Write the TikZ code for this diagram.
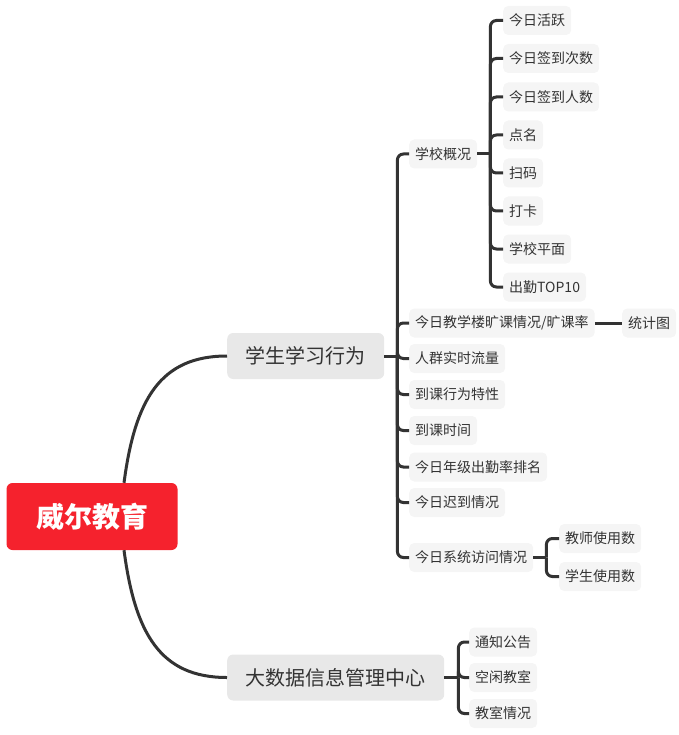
\documentclass[tikz,border=0pt]{standalone}
\usepackage{fontspec}
\setmainfont{Noto Sans CJK SC}
\definecolor{linec}{HTML}{333333}
\definecolor{textc}{HTML}{333333}
\definecolor{leafgray}{HTML}{F5F5F5}
\definecolor{midgray}{HTML}{E8E8E8}
\definecolor{rootred}{HTML}{F5222D}
\begin{document}
\begin{tikzpicture}[x=1pt,y=-1pt,
  leaf/.style={fill=leafgray, rounded corners=5pt, inner xsep=6pt, inner ysep=0pt, minimum height=29pt, anchor=west, text=textc, font=\fontsize{14}{16}\selectfont},
  mid/.style={fill=midgray, rounded corners=6pt, inner xsep=18.5pt, inner ysep=0pt, minimum height=46pt, text=textc, font=\fontsize{20}{22}\selectfont},
  rootbox/.style={fill=rootred, rounded corners=6pt, inner xsep=29.5pt, inner ysep=0pt, minimum height=67pt, text=white, font=\fontsize{28}{30}\selectfont\bfseries},
  conn/.style={draw=linec, line width=3pt, rounded corners=6pt},
  curve/.style={draw=linec, line width=3pt}
]
\useasboundingbox (0,0) rectangle (678,735);

% root and main branches
\node[rootbox] (root) at (92,516.5) {威尔教育};
\node[mid, anchor=west] (stu) at (227,356) {学生学习行为};
\node[mid, anchor=west] (big) at (227,677.5) {大数据信息管理中心};

\coordinate (rt) at ([xshift=32pt]root.north);
\coordinate (rb) at ([xshift=32pt]root.south);
\draw[curve] (rt) .. controls ([xshift=11pt,yshift=83pt]rt) and ([xshift=-67pt]stu.west) .. (stu.west);
\draw[curve] (rb) .. controls ([xshift=11pt,yshift=-83pt]rb) and ([xshift=-67pt]big.west) .. (big.west);

% children of 学生学习行为
\node[leaf] (sch) at (409,154) {学校概况};
\node[leaf] (kk) at (409,323) {今日教学楼旷课情况/旷课率};
\node[leaf] (rq) at (409,358.5) {人群实时流量};
\node[leaf] (dk) at (409,394.5) {到课行为特性};
\node[leaf] (dt) at (409,430.5) {到课时间};
\node[leaf] (nj) at (409,467) {今日年级出勤率排名};
\node[leaf] (cd) at (409,502.5) {今日迟到情况};
\node[leaf] (xt) at (409,557.5) {今日系统访问情况};

\coordinate (j1) at ([xshift=13pt]stu.east);
\draw[conn] (stu.east) -- (j1);
\foreach \c in {sch,kk,rq,dk,dt,nj,cd,xt}
  \draw[conn] (j1) |- (\c.west);

% 统计图
\node[leaf] (tj) at (622,323) {统计图};
\draw[conn] (kk.east) -- (tj.west);

% children of 学校概况
\node[leaf] (a1) at (503,20.5) {今日活跃};
\node[leaf] (a2) at (503,58.5) {今日签到次数};
\node[leaf] (a3) at (503,97) {今日签到人数};
\node[leaf] (a4) at (503,135) {点名};
\node[leaf] (a5) at (503,173) {扫码};
\node[leaf] (a6) at (503,211) {打卡};
\node[leaf] (a7) at (503,249) {学校平面};
\node[leaf] (a8) at (503,287) {出勤TOP10};

\coordinate (j2) at ([xshift=13pt]sch.east);
\draw[conn] (sch.east) -- (j2);
\foreach \c in {a1,a2,a3,a4,a5,a6,a7,a8}
  \draw[conn] (j2) |- (\c.west);

% children of 今日系统访问情况
\node[leaf] (b1) at (559,538.5) {教师使用数};
\node[leaf] (b2) at (559,576.5) {学生使用数};
\coordinate (j3) at ([xshift=13pt]xt.east);
\draw[conn] (xt.east) -- (j3);
\foreach \c in {b1,b2}
  \draw[conn] (j3) |- (\c.west);

% children of 大数据信息管理中心
\node[leaf] (d1) at (469,642) {通知公告};
\node[leaf] (d2) at (469,677.5) {空闲教室};
\node[leaf] (d3) at (469,713.5) {教室情况};
\coordinate (j4) at ([xshift=14pt]big.east);
\draw[conn] (big.east) -- (j4);
\foreach \c in {d1,d2,d3}
  \draw[conn] (j4) |- (\c.west);
\end{tikzpicture}
\end{document}
